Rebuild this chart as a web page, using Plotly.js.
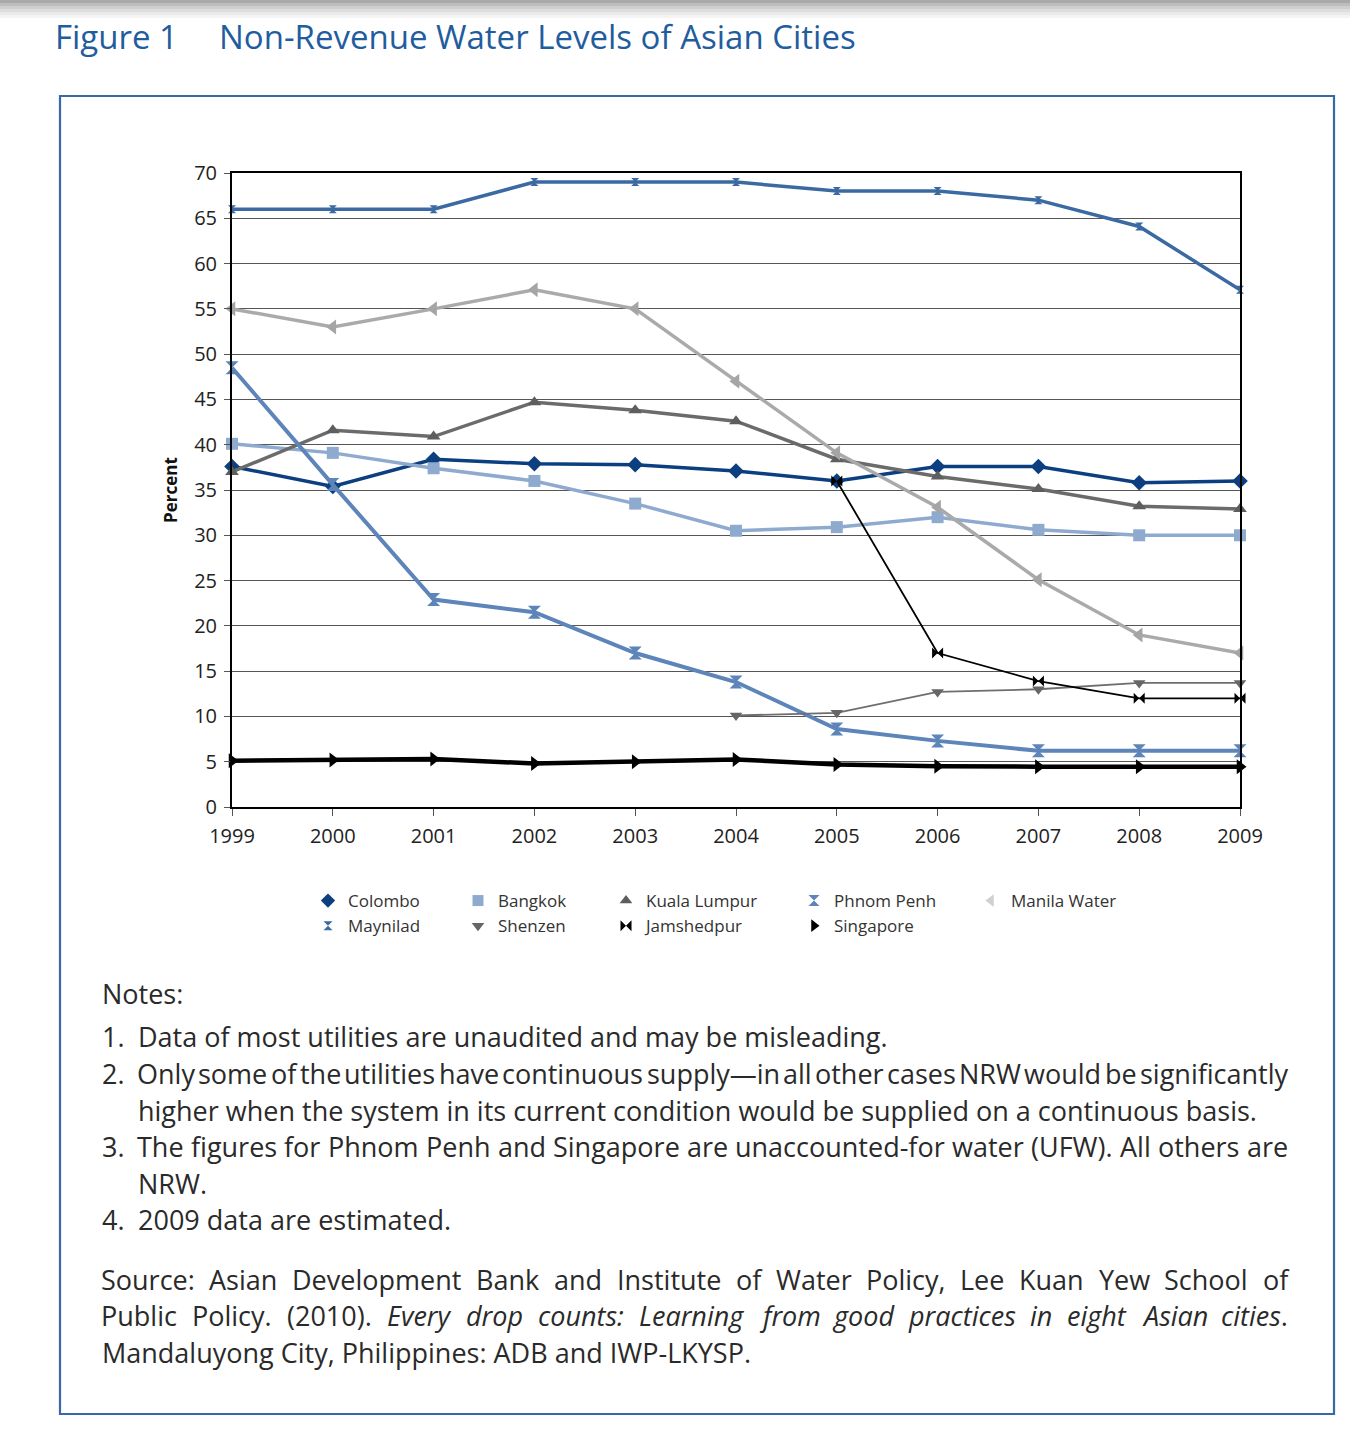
<!DOCTYPE html>
<html>
<head>
<meta charset="utf-8">
<script src="https://cdn.plot.ly/plotly-3.0.1.min.js"></script>
<style>html,body{margin:0;padding:0;background:#fff;}#chart{width:1350px;height:1440px;}</style>
</head>
<body>
<div id="chart"></div>
<script>
// ---- data ----
const years = [1999, 2000, 2001, 2002, 2003, 2004, 2005, 2006, 2007, 2008, 2009];
const colombo     = [37.6, 35.4, 38.4, 37.9, 37.8, 37.1, 36.0, 37.6, 37.6, 35.8, 36.0];
const bangkok     = [40.1, 39.1, 37.4, 36.0, 33.5, 30.5, 30.9, 32.0, 30.6, 30.0, 30.0];
const kualaLumpur = [37.0, 41.6, 40.9, 44.7, 43.8, 42.6, 38.4, 36.5, 35.1, 33.2, 32.9];
const phnomPenh   = [48.5, 35.6, 22.9, 21.5, 17.0, 13.8, 8.6, 7.3, 6.2, 6.2, 6.2];
const manilaWater = [55.0, 53.0, 55.0, 57.1, 55.0, 47.0, 39.1, 33.1, 25.1, 19.0, 17.0];
const maynilad    = [66.0, 66.0, 66.0, 69.0, 69.0, 69.0, 68.0, 68.0, 67.0, 64.1, 57.1];
const shenzen     = [null, null, null, null, null, 10.1, 10.4, 12.7, 13.0, 13.7, 13.7];
const jamshedpur  = [null, null, null, null, null, null, 36.0, 17.0, 13.9, 12.0, 12.0];
const singapore   = [5.1, 5.2, 5.3, 4.8, 5.0, 5.25, 4.7, 4.5, 4.45, 4.45, 4.45];

const seriesNames = ['Colombo', 'Bangkok', 'Kuala Lumpur', 'Phnom Penh', 'Manila Water',
                     'Maynilad', 'Shenzen', 'Jamshedpur', 'Singapore'];
const yTicks = [0, 5, 10, 15, 20, 25, 30, 35, 40, 45, 50, 55, 60, 65, 70];

const figureLabel = 'Figure 1';
const figureTitle = 'Non-Revenue Water Levels of Asian Cities';
const yTitle = 'Percent';
const noteHeader = 'Notes:';
const noteNumbers = ['1.', '2.', '', '3.', '', '4.'];
const noteLines = [
  'Data of most utilities are unaudited and may be misleading.',
  'Only some of the utilities have continuous supply\u2014in all other cases NRW would be significantly',
  'higher when the system in its current condition would be supplied on a continuous basis.',
  'The figures for Phnom Penh and Singapore are unaccounted-for water (UFW). All others are',
  'NRW.',
  '2009 data are estimated.'
];
const noteJustified = [false, true, false, true, false, false];
const sourceLines = [
  'Source: Asian Development Bank and Institute of Water Policy, Lee Kuan Yew School of',
  'Public Policy. (2010). <i>Every drop counts: Learning from good practices in eight Asian cities</i>.',
  'Mandaluyong City, Philippines: ADB and IWP-LKYSP.'
];
const sourceJustified = [true, true, false];

// ---- styles ----
const styles = {
  'Colombo':      {color: '#0b3f7f', mcolor: '#0b3f7f', width: 3.5, symbol: 'diamond', size: 12},
  'Bangkok':      {color: '#8eaace', mcolor: '#8eaace', width: 3.5, symbol: 'square', size: 12},
  'Kuala Lumpur': {color: '#6b6b6b', mcolor: '#5e5e5e', width: 3.5, symbol: 'triangle-up', size: 12},
  'Phnom Penh':   {color: '#5d85b9', mcolor: '#5d85b9', width: 4, symbol: 'hourglass', size: 13},
  'Manila Water': {color: '#aaaaaa', mcolor: '#a5a5a5', width: 3.5, symbol: 'triangle-left', size: 13},
  'Maynilad':     {color: '#3b6aa2', mcolor: '#3b6aa2', width: 3.5, symbol: 'hourglass', size: 8},
  'Shenzen':      {color: '#6e6e6e', mcolor: '#666666', width: 1.8, symbol: 'triangle-down', size: 11},
  'Jamshedpur':   {color: '#000000', mcolor: '#000000', width: 1.8, symbol: 'bowtie', size: 11},
  'Singapore':    {color: '#000000', mcolor: '#000000', width: 4.5, symbol: 'triangle-right', size: 13}
};
const legendMarkerColor = {'Manila Water': '#d0d0d0'};
const seriesValues = [colombo, bangkok, kualaLumpur, phnomPenh, manilaWater, maynilad, shenzen, jamshedpur, singapore];
const legendIds = {
  'Colombo': 'legend', 'Maynilad': 'legend',
  'Bangkok': 'legend2', 'Shenzen': 'legend2',
  'Kuala Lumpur': 'legend3', 'Jamshedpur': 'legend3',
  'Phnom Penh': 'legend4', 'Singapore': 'legend4',
  'Manila Water': 'legend5'
};

// plot area in pixels: x 232..1240, y 173..807
const L = 232, R = 1240, T = 173, B = 807, W = 1350, H = 1440;
const PX = x => (x - L) / (R - L);
const PY = y => (B - y) / (B - T);

const FONT = 'Open Sans, sans-serif';
const TXT = 'Open Sans, sans-serif';
const NOTE_SIZE = 27;

const traces = [];
seriesNames.forEach((name, i) => {
  const s = styles[name];
  traces.push({
    type: 'scatter', mode: 'lines+markers', name: name,
    x: years, y: seriesValues[i],
    line: {color: s.color, width: s.width},
    marker: {symbol: s.symbol, size: s.size, color: s.mcolor, line: {width: 0}},
    cliponaxis: false, showlegend: false, connectgaps: false, hoverinfo: 'x+y+name'
  });
});
// legend entries (markers only, like the reference)
const legendOrder = ['Colombo', 'Maynilad', 'Bangkok', 'Shenzen', 'Kuala Lumpur', 'Jamshedpur', 'Phnom Penh', 'Singapore', 'Manila Water'];
legendOrder.forEach(name => {
  const s = styles[name];
  traces.push({
    type: 'scatter', mode: 'markers', name: name, x: [null], y: [null],
    marker: {symbol: s.symbol, size: name === 'Maynilad' ? 9 : 11, color: legendMarkerColor[name] || s.mcolor, line: {width: 0}},
    legend: legendIds[name], showlegend: true
  });
});

const legendCols = [312, 462, 610, 798, 975];
const legendTop = 883;
const legendBase = {orientation: 'v', bgcolor: 'rgba(0,0,0,0)', borderwidth: 0,
  font: {family: FONT, size: 17, color: '#333'}, xanchor: 'left', yanchor: 'top',
  itemclick: false, itemdoubleclick: false, tracegroupgap: 0, itemwidth: 30};
const legends = {};
['legend', 'legend2', 'legend3', 'legend4', 'legend5'].forEach((id, k) => {
  legends[id] = Object.assign({}, legendBase, {x: PX(legendCols[k] - 4), y: PY(legendTop)});
});

const annotations = [];
annotations.push({xref: 'paper', yref: 'paper', x: PX(53), y: PY(36), xanchor: 'left', yanchor: 'middle',
  text: figureLabel, showarrow: false, font: {family: TXT, size: 33, color: '#1f5d9e'}});
annotations.push({xref: 'paper', yref: 'paper', x: PX(217), y: PY(36), xanchor: 'left', yanchor: 'middle',
  text: figureTitle, showarrow: false, font: {family: TXT, size: 33, color: '#1f5d9e'}});
annotations.push({xref: 'paper', yref: 'paper', x: PX(170), y: PY(490), xanchor: 'center', yanchor: 'middle',
  text: '<b>' + yTitle + '</b>', textangle: -90, showarrow: false, font: {family: FONT, size: 17, color: '#111'}});

const noteFont = {family: TXT, size: NOTE_SIZE, color: '#2a2a2a'};

// text measuring for justified lines
const cv = document.createElement('canvas').getContext('2d');
function measure(word, italic) {
  cv.font = (italic ? 'italic ' : '') + NOTE_SIZE + 'px "Open Sans"';
  return cv.measureText(word).width;
}
function addLine(text, x0, x1, y, justified) {
  if (!justified) {
    annotations.push({xref: 'paper', yref: 'paper', x: PX(x0), y: PY(y), xanchor: 'left', yanchor: 'middle',
      text: text, showarrow: false, font: noteFont});
    return;
  }
  // split into words, keeping italic state
  const words = [];
  let italic = false;
  text.split(' ').forEach(w => {
    let it = italic;
    if (w.indexOf('<i>') >= 0) { it = true; italic = true; }
    if (w.indexOf('</i>') >= 0) { italic = false; }
    const plain = w.replace(/<\/?i>/g, '');
    const html = (it ? '<i>' : '') + w.replace(/<\/?i>/g, m => m) + '';
    let render = w;
    if (it && w.indexOf('<i>') < 0) render = '<i>' + render;
    if (it && w.indexOf('</i>') < 0) render = render + '</i>';
    words.push({plain: plain, render: render, italic: it});
  });
  const widths = words.map(w => measure(w.plain, w.italic));
  const total = widths.reduce((a, b) => a + b, 0);
  const gap = (x1 - x0 - total) / (words.length - 1);
  let x = x0;
  words.forEach((w, k) => {
    annotations.push({xref: 'paper', yref: 'paper', x: PX(x), y: PY(y), xanchor: 'left', yanchor: 'middle',
      text: w.render, showarrow: false, font: noteFont, borderpad: 0});
    x += widths[k] + gap;
  });
}

annotations.push({xref: 'paper', yref: 'paper', x: PX(100), y: PY(993), xanchor: 'left', yanchor: 'middle',
  text: noteHeader, showarrow: false, font: noteFont});
const noteY = [1036, 1073, 1110, 1146, 1183, 1219];
noteLines.forEach((t, i) => {
  if (noteNumbers[i]) {
    annotations.push({xref: 'paper', yref: 'paper', x: PX(100), y: PY(noteY[i]), xanchor: 'left', yanchor: 'middle',
      text: noteNumbers[i], showarrow: false, font: noteFont});
  }
  addLine(t, 136, 1287, noteY[i], noteJustified[i]);
});
const srcY = [1279, 1315, 1352];
sourceLines.forEach((t, i) => addLine(t, 100, 1287, srcY[i], sourceJustified[i]));

const shapes = [];
const grad = ['#a9a9a9', '#bdbdbd', '#cecece', '#dddddd', '#eaeaea', '#f4f4f4'];
grad.forEach((c, i) => {
  shapes.push({type: 'rect', xref: 'paper', yref: 'paper', x0: PX(0), x1: PX(W), y0: PY(i * 3), y1: PY(i * 3 + 3),
    fillcolor: c, line: {width: 0}, layer: 'above'});
});
shapes.push({type: 'rect', xref: 'paper', yref: 'paper', x0: PX(60), x1: PX(1334), y0: PY(96), y1: PY(1414),
  line: {color: '#3a68a6', width: 2.2}, fillcolor: 'rgba(0,0,0,0)', layer: 'below'});

const layout = Object.assign({
  width: W, height: H,
  margin: {l: L, r: W - R, t: T, b: H - B, pad: 0},
  paper_bgcolor: '#ffffff', plot_bgcolor: '#ffffff',
  font: {family: FONT, color: '#222'},
  showlegend: true,
  xaxis: {
    range: [1999, 2009], tickmode: 'array', tickvals: years, ticktext: years.map(String),
    showline: true, linecolor: '#000', linewidth: 2, mirror: true,
    ticks: 'outside', ticklen: 7, tickwidth: 1, tickcolor: '#555', ticklabelstandoff: 3,
    showgrid: false, zeroline: false,
    tickfont: {family: FONT, size: 20, color: '#222'}
  },
  yaxis: {
    range: [0, 70], tickmode: 'array', tickvals: yTicks,
    showline: true, linecolor: '#000', linewidth: 2, mirror: true,
    ticks: 'outside', ticklen: 6, tickwidth: 1, tickcolor: '#555', ticklabelstandoff: 3,
    showgrid: true, gridcolor: '#555', gridwidth: 1, zeroline: false,
    tickfont: {family: FONT, size: 20, color: '#222'}
  },
  annotations: annotations,
  shapes: shapes
}, legends);

Plotly.newPlot('chart', traces, layout, {displayModeBar: false, staticPlot: true});
</script>
</body>
</html>
